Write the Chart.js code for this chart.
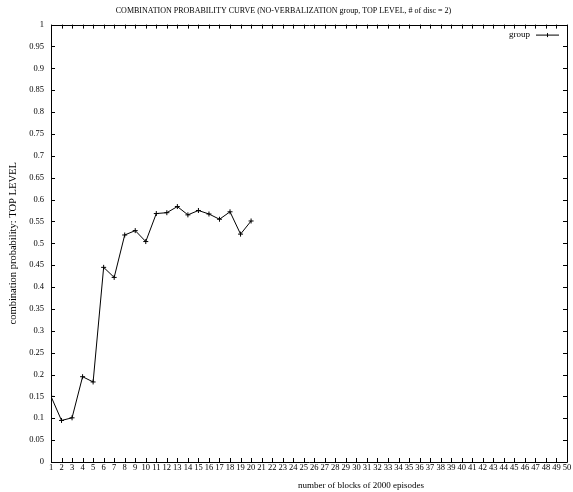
<!DOCTYPE html>
<html>
<head>
<meta charset="utf-8">
<script src="https://cdn.jsdelivr.net/npm/chart.js@4/dist/chart.umd.min.js"></script>
<style>
  html, body { margin: 0; padding: 0; background: #fff; }
  #wrap { width: 573px; height: 492px; }
</style>
</head>
<body>
<div id="wrap"><canvas id="chart" width="573" height="492"></canvas></div>
<script>
// data
var blocks = [1, 2, 3, 4, 5, 6, 7, 8, 9, 10, 11, 12, 13, 14, 15, 16, 17, 18, 19, 20];
var probability = [
  0.150, 0.095, 0.101, 0.195, 0.183, 0.445, 0.422, 0.519, 0.529, 0.504,
  0.568, 0.570, 0.584, 0.565, 0.575, 0.567, 0.555, 0.572, 0.521, 0.551
];
var seriesName = 'group';
var xTitle = 'number of blocks of 2000 episodes';

var points = blocks.map(function (b, i) { return { x: b, y: probability[i] }; });

var serif = '"Liberation Serif", "DejaVu Serif", serif';

// gnuplot-like frame, inward ticks on all four sides, x label and key
var gnuFrame = {
  id: 'gnuFrame',
  afterDraw: function (chart) {
    var ctx = chart.ctx;
    var a = chart.chartArea;
    var xs = chart.scales.x, ys = chart.scales.y;
    var tl = 4;
    ctx.save();
    ctx.strokeStyle = '#000';
    ctx.lineWidth = 1;
    ctx.beginPath();
    ctx.rect(Math.round(a.left) + 0.5, Math.round(a.top) + 0.5,
      Math.round(a.right - a.left), Math.round(a.bottom - a.top));
    xs.ticks.forEach(function (t) {
      var px = Math.round(xs.getPixelForValue(t.value)) + 0.5;
      ctx.moveTo(px, a.bottom); ctx.lineTo(px, a.bottom - tl);
      ctx.moveTo(px, a.top); ctx.lineTo(px, a.top + tl);
    });
    ys.ticks.forEach(function (t) {
      var py = Math.round(ys.getPixelForValue(t.value)) + 0.5;
      ctx.moveTo(a.left, py); ctx.lineTo(a.left + tl, py);
      ctx.moveTo(a.right, py); ctx.lineTo(a.right - tl, py);
    });
    ctx.stroke();

    ctx.fillStyle = '#000';
    ctx.textBaseline = 'middle';

    // x axis label (gnuplot puts it right of centre here)
    ctx.font = '9px ' + serif;
    ctx.textAlign = 'center';
    ctx.fillText(xTitle, 361, chart.height - 6);

    // key
    var ky = a.top + 10.5;
    ctx.textAlign = 'right';
    ctx.fillText(seriesName, a.right - 37, ky);
    ctx.beginPath();
    ctx.moveTo(a.right - 31, ky); ctx.lineTo(a.right - 8, ky);
    var cx = a.right - 19.5;
    ctx.moveTo(cx, ky - 2); ctx.lineTo(cx, ky + 2);
    ctx.stroke();
    ctx.restore();
  }
};

var ctx = document.getElementById('chart').getContext('2d');
var myChart = new Chart(ctx, {
  type: 'line',
  data: {
    datasets: [{
      label: seriesName,
      data: points,
      borderColor: '#000',
      backgroundColor: '#000',
      borderWidth: 1,
      pointStyle: 'cross',
      pointRadius: 2.5,
      pointBorderWidth: 1,
      pointBorderColor: '#000',
      tension: 0
    }]
  },
  options: {
    responsive: false,
    animation: false,
    layout: { padding: { left: 0, right: 6, top: 0, bottom: 0 } },
    plugins: {
      legend: { display: false },
      tooltip: { enabled: false },
      title: {
        display: true,
        text: 'COMBINATION PROBABILITY CURVE (NO-VERBALIZATION group, TOP LEVEL, # of disc = 2)',
        color: '#000',
        font: { family: serif, size: 8, weight: 'normal' },
        padding: { top: 6, bottom: 9 }
      }
    },
    scales: {
      x: {
        type: 'linear',
        min: 1,
        max: 50,
        grid: { display: false, drawTicks: false, tickLength: 0 },
        border: { display: false },
        ticks: {
          stepSize: 1,
          autoSkip: false,
          maxRotation: 0,
          color: '#000',
          padding: 1,
          font: { family: serif, size: 8.5 }
        },
        afterFit: function (scale) { scale.height = 30; }
      },
      y: {
        min: 0,
        max: 1,
        grid: { display: false, drawTicks: false, tickLength: 0 },
        border: { display: false },
        ticks: {
          stepSize: 0.05,
          autoSkip: false,
          color: '#000',
          padding: 7,
          font: { family: serif, size: 8.5 },
          callback: function (value) { return String(Number(value.toFixed(2))); }
        },
        title: {
          display: true,
          text: 'combination probability: TOP LEVEL',
          color: '#000',
          font: { family: serif, size: 10.5 },
          padding: { top: 7, bottom: 0 }
        },
        afterFit: function (scale) { scale.width = 51; }
      }
    }
  },
  plugins: [gnuFrame]
});
</script>
</body>
</html>
